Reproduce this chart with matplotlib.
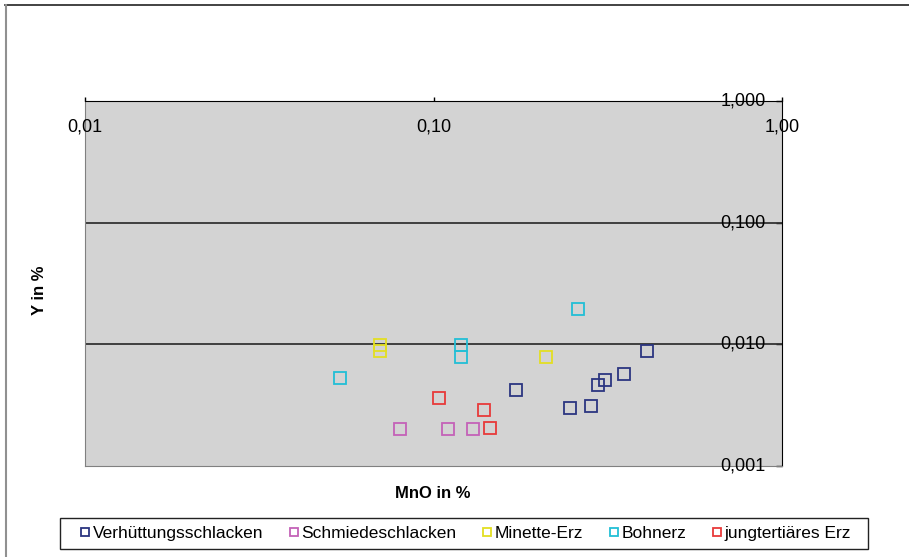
from matplotlib import pyplot as plt
from matplotlib.patches import Rectangle
from matplotlib.lines import Line2D
import matplotlib.ticker as mticker
import matplotlib.transforms as mtransforms

plt.rcParams['font.family'] = ['Liberation Sans', 'DejaVu Sans']

# data (MnO in %, Y in %)
verh_x = [0.173, 0.247, 0.283, 0.297, 0.310, 0.352, 0.411]
verh_y = [0.0042, 0.0030, 0.0031, 0.0046, 0.0051, 0.0057, 0.0088]
schmied_x = [0.080, 0.110, 0.130]
schmied_y = [0.0020, 0.0020, 0.0020]
minette_x = [0.070, 0.070, 0.210]
minette_y = [0.0098, 0.0088, 0.0078]
bohn_x = [0.054, 0.120, 0.120, 0.260]
bohn_y = [0.0053, 0.0098, 0.0078, 0.0195]
jung_x = [0.104, 0.140, 0.145]
jung_y = [0.0036, 0.0029, 0.00205]

series = [
    ('Verhüttungsschlacken', verh_x, verh_y, '#2B3580'),
    ('Schmiedeschlacken', schmied_x, schmied_y, '#C462B8'),
    ('Minette-Erz', minette_x, minette_y, '#E3DF22'),
    ('Bohnerz', bohn_x, bohn_y, '#22BFD6'),
    ('jungtertiäres Erz', jung_x, jung_y, '#E83A3A'),
]

x_ticks = [0.01, 0.1, 1.0]
x_labels = ['0,01', '0,10', '1,00']
y_ticks = [0.001, 0.01, 0.1, 1.0]
y_labels = ['0,001', '0,010', '0,100', '1,000']

W, H = 909, 557
fig = plt.figure(figsize=(W / 100, H / 100), dpi=100)
ax = fig.add_axes([85 / W, 91 / H, 697 / W, 365 / H])
ax.set_facecolor('#D3D3D3')
ax.set_xscale('log')
ax.set_yscale('log')
ax.set_xlim(0.01, 1.0)
ax.set_ylim(0.001, 1.0)

for name, xs, ys, col in series:
    ax.plot(xs, ys, linestyle='none', marker='s', markersize=9,
            markerfacecolor='none', markeredgecolor=col, markeredgewidth=1.3,
            label=name, zorder=3)

# horizontal gridlines
for v in [0.01, 0.1]:
    ax.axhline(v, color='#333333', lw=1.3, zorder=2)

# axes on top and right like the original
ax.xaxis.tick_top()
ax.yaxis.tick_right()
ax.set_xticks(x_ticks)
ax.set_yticks(y_ticks)
ax.xaxis.set_minor_locator(mticker.NullLocator())
ax.yaxis.set_minor_locator(mticker.NullLocator())
ax.set_xticklabels([])
ax.set_yticklabels([])
ax.tick_params(axis='x', direction='out', length=3, width=1, color='black')
ax.tick_params(axis='y', direction='in', length=4, width=1, color='black')
ax.spines['top'].set_color('black')
ax.spines['right'].set_color('black')
ax.spines['left'].set_color('#808080')
ax.spines['bottom'].set_color('#808080')

# tick labels drawn inside the plot area
tx = mtransforms.blended_transform_factory(ax.transData, ax.transAxes)
for v, lab in zip(x_ticks, x_labels):
    ax.text(v, 0.929, lab, transform=tx, ha='center', va='center', fontsize=13)
ty = mtransforms.blended_transform_factory(ax.transAxes, ax.transData)
for v, lab in zip(y_ticks, y_labels):
    ax.text(0.977, v, lab, transform=ty, ha='right', va='center', fontsize=13)

fig.text(433 / W, 1 - 494 / H, 'MnO in %', ha='center', va='center',
         fontsize=12, fontweight='bold')
fig.text(40 / W, 1 - 290 / H, 'Y in %', ha='center', va='center',
         fontsize=12, fontweight='bold', rotation=90)

leg = fig.legend(loc='center', bbox_to_anchor=(466 / W, 1 - 533 / H),
                 ncol=5, fontsize=12.5, frameon=False,
                 markerscale=0.6, handlelength=0.5, handletextpad=0.2,
                 columnspacing=1.5)

# legend box and chart border
fig.patches.append(Rectangle((60 / W, 1 - 549 / H), 808 / W, 31 / H,
                             transform=fig.transFigure, fill=False,
                             edgecolor='#222222', lw=1))
fig.lines.append(Line2D([5 / W, 1], [1 - 5 / H, 1 - 5 / H],
                        transform=fig.transFigure, color='#222222', lw=1.2))
fig.lines.append(Line2D([5.5 / W, 5.5 / W], [0, 1 - 5 / H],
                        transform=fig.transFigure, color='#909090', lw=1.5))

plt.savefig('out.png', dpi=100)
